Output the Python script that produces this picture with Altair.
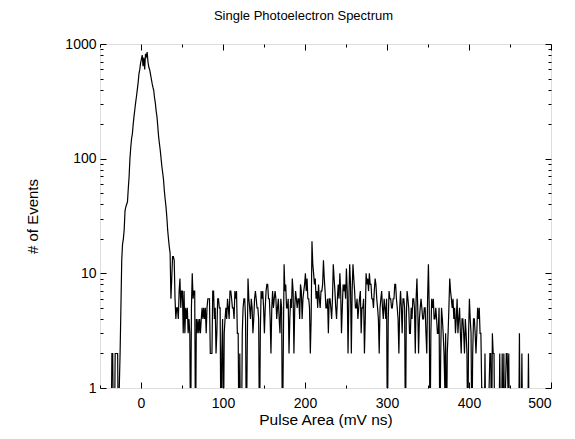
import altair as alt
import pandas as pd

# Histogram: bins of width 1 mV ns starting at -50 (one row = 10 bins)
bin_start = -50
bin_width = 1
counts = [
    0, 0, 0, 0, 0, 0, 0, 0, 0, 0,                                # -50
    0, 0, 0, 0, 2, 2, 0, 0, 2, 2,                                # -40
    2, 2, 0, 1, 2, 5, 13, 18, 20, 24,                            # -30
    35, 38, 40, 42, 55, 70, 100, 125, 150, 165,                  # -20
    200, 235, 270, 310, 350, 400, 460, 550, 600, 680,            # -10
    740, 800, 640, 760, 600, 820, 780, 850, 700, 630,            # 0
    600, 550, 500, 455, 420, 395, 340, 305, 260, 232,            # 10
    190, 155, 135, 118, 100, 85, 75, 65, 52, 44,                 # 20
    38, 31, 24, 20, 17, 15, 6, 9, 14, 14,                        # 30
    13, 6, 4, 5, 5, 4, 7, 9, 5, 7,                               # 40
    7, 3, 7, 3, 5, 4, 5, 3, 4, 3,                                # 50
    0, 5, 10, 6, 7, 7, 0, 4, 3, 4,                               # 60
    3, 4, 3, 4, 5, 4, 5, 4, 5, 3,                                # 70
    5, 6, 6, 6, 2, 2, 2, 7, 7, 4,                                # 80
    5, 2, 3, 6, 6, 5, 5, 0, 2, 4,                                # 90
    0, 3, 4, 5, 4, 6, 5, 4, 7, 7,                                # 100
    6, 5, 5, 4, 7, 6, 7, 3, 3, 0,                                # 110
    2, 0, 0, 3, 5, 6, 6, 4, 0, 2,                                # 120
    9, 6, 5, 4, 6, 5, 3, 4, 6, 7,                                # 130
    6, 5, 5, 4, 0, 3, 7, 6, 7, 5,                                # 140
    3, 5, 7, 8, 8, 6, 6, 4, 2, 5,                                # 150
    7, 5, 6, 7, 6, 4, 5, 6, 4, 3,                                # 160
    6, 5, 0, 2, 12, 7, 8, 5, 5, 6,                               # 170
    2, 4, 6, 5, 9, 7, 2, 5, 7, 6,                                # 180
    5, 6, 6, 4, 8, 7, 4, 6, 7, 8,                                # 190
    10, 7, 9, 6, 6, 5, 2, 4, 19, 12,                             # 200
    10, 8, 9, 6, 7, 5, 8, 6, 5, 7,                               # 210
    7, 8, 13, 9, 7, 5, 5, 6, 3, 6,                               # 220
    6, 5, 4, 6, 12, 9, 7, 5, 4, 6,                               # 230
    8, 6, 10, 7, 3, 5, 8, 7, 8, 6,                               # 240
    11, 7, 2, 6, 12, 8, 2, 7, 12, 9,                             # 250
    7, 5, 5, 6, 4, 5, 6, 7, 3, 5,                                # 260
    5, 6, 2, 4, 10, 8, 9, 7, 10, 8,                              # 270
    8, 6, 6, 5, 7, 9, 8, 6, 5, 4,                                # 280
    2, 5, 6, 7, 5, 4, 6, 5, 4, 6,                                # 290
    0, 4, 7, 6, 6, 5, 5, 6, 6, 8,                                # 300
    8, 6, 5, 4, 2, 5, 7, 5, 3, 6,                                # 310
    6, 5, 0, 4, 7, 6, 5, 3, 3, 5,                                # 320
    4, 6, 6, 5, 2, 6, 9, 5, 2, 4,                                # 330
    5, 6, 5, 4, 4, 5, 5, 3, 2, 6,                                # 340
    12, 5, 0, 3, 6, 5, 6, 4, 4, 5,                               # 350
    4, 3, 3, 5, 0, 2, 5, 4, 3, 2,                                # 360
    1, 3, 0, 2, 3, 5, 9, 7, 6, 5,                                # 370
    6, 4, 5, 3, 4, 6, 3, 4, 5, 3,                                # 380
    2, 4, 4, 3, 2, 4, 3, 2, 0, 3,                                # 390
    6, 4, 3, 0, 2, 4, 4, 3, 2, 3,                                # 400
    5, 4, 5, 3, 3, 1, 1, 0, 0, 2,                                # 410
    0, 1, 0, 0, 1, 2, 2, 0, 3, 2,                                # 420
    2, 0, 0, 0, 1, 0, 0, 2, 0, 0,                                # 430
    2, 0, 2, 0, 1, 2, 2, 1, 2, 0,                                # 440
    0, 1, 0, 0, 0, 0, 1, 0, 0, 0,                                # 450
    0, 3, 0, 0, 2, 0, 0, 0, 1, 0,                                # 460
    0, 0, 2, 0, 0, 0, 0, 0, 0, 0,                                # 470
    0, 0, 0, 0, 0, 0, 0, 0, 0, 0,                                # 480
    0, 0, 0, 0, 0, 0, 0, 0, 0, 0,                                # 490
]

x_major = [0, 100, 200, 300, 400, 500]
x_minor = [-50, 50, 150, 250, 350, 450]
y_major = [1, 10, 100, 1000]
y_minor = [2, 3, 4, 5, 6, 7, 8, 9, 20, 30, 40, 50, 60, 70, 80, 90,
           200, 300, 400, 500, 600, 700, 800, 900]

centers = [bin_start + bin_width * (i + 0.5) for i in range(len(counts))]
# empty bins fall below the log axis and are clipped at the frame
plot_vals = [c if c > 0 else 0.3 for c in counts]
df = pd.DataFrame({"x": centers, "y": plot_vals})

FONT = "Liberation Sans"


def xs():
    return alt.Scale(domain=[-50, 500], nice=False, zero=False)


def ys():
    return alt.Scale(type="log", domain=[1, 1000], nice=False)


def tick_axis(orient, vals, size):
    return alt.Axis(orient=orient, values=vals, tickSize=size, offset=-size,
                    labels=False, domain=False, grid=False, title="",
                    tickColor="black", tickWidth=1)


base = alt.Chart(df)

main = base.mark_line(color="black", strokeWidth=1.2, clip=True).encode(
    x=alt.X("x:Q", scale=xs(), axis=alt.Axis(
        orient="bottom", values=x_major, tickSize=6, offset=-6, domain=False,
        grid=False, labelPadding=8, labelFontSize=14, labelFont=FONT,
        labelColor="black", tickColor="black", format="d",
        title="Pulse Area (mV ns)", titleFontSize=15.5, titleFont=FONT,
        titleFontWeight="normal", titleColor="black", titlePadding=2)),
    y=alt.Y("y:Q", scale=ys(), axis=alt.Axis(
        orient="left", values=y_major, tickSize=6, offset=-6, domain=False,
        grid=False, labelPadding=4, labelFontSize=14, labelFont=FONT,
        labelColor="black", tickColor="black", format="d",
        title="# of Events", titleFontSize=15, titleFont=FONT,
        titleFontWeight="normal", titleColor="black", titlePadding=24)),
)

minor_lb = base.mark_line(opacity=0).encode(
    x=alt.X("x:Q", scale=xs(), axis=tick_axis("bottom", x_minor, 3)),
    y=alt.Y("y:Q", scale=ys(), axis=tick_axis("left", y_minor, 3)),
)
major_tr = base.mark_line(opacity=0).encode(
    x=alt.X("x:Q", scale=xs(), axis=tick_axis("top", x_major, 6)),
    y=alt.Y("y:Q", scale=ys(), axis=tick_axis("right", y_major, 6)),
)
minor_tr = base.mark_line(opacity=0).encode(
    x=alt.X("x:Q", scale=xs(), axis=tick_axis("top", x_minor, 3)),
    y=alt.Y("y:Q", scale=ys(), axis=tick_axis("right", y_minor, 3)),
)

chart = alt.layer(main, minor_lb, major_tr, minor_tr).resolve_scale(
    x="independent", y="independent"
).properties(
    width=451,
    height=344,
    title=alt.Title("Single Photoelectron Spectrum", fontSize=13, font=FONT,
                    fontWeight="normal", color="black", offset=14, dx=-22),
    autosize=alt.AutoSizeParams(type="none"),
    padding={"left": 92, "top": 36, "right": 16, "bottom": 50},
).configure_view(stroke="black", strokeWidth=1.5).configure(background="white")

chart.save("out.html", embed_options={"renderer": "svg", "actions": False})
